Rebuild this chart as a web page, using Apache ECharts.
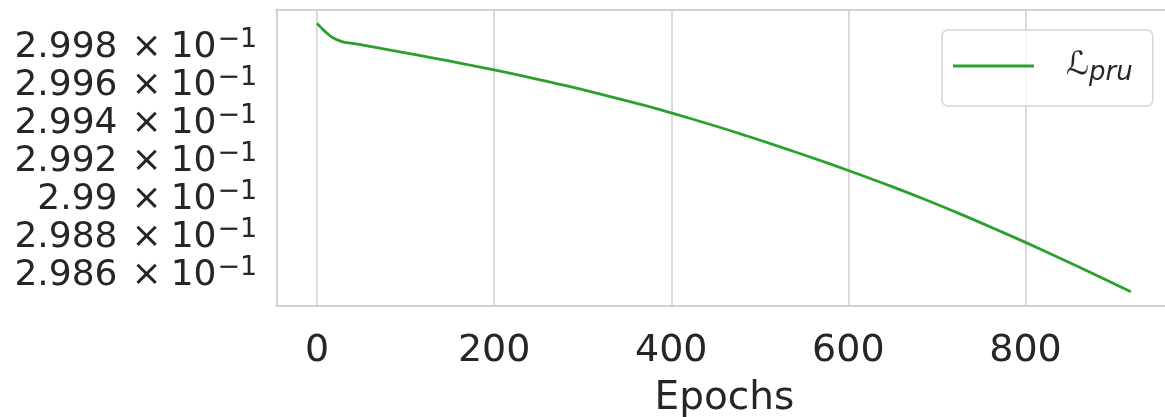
<!DOCTYPE html>
<html>
<head>
<meta charset="utf-8">
<script src="https://cdn.jsdelivr.net/npm/echarts@6/dist/echarts.min.js"></script>
<style>
  html, body { margin: 0; padding: 0; background: #ffffff; }
  #chart { width: 1165px; height: 417px; }
</style>
</head>
<body>
<div id="chart"></div>
<script>
// Pruning loss recorded over training epochs
const epochs = [0, 8, 17, 28, 40, 55, 92, 130, 168, 200, 243, 281, 319, 371, 400,
  447, 484, 522, 560, 600, 650, 688, 726, 763, 800, 839, 877, 919];
const pruLoss = [0.299905, 0.299867, 0.299832, 0.299809, 0.299800, 0.299788, 0.299757,
  0.299724, 0.299690, 0.299660, 0.299617, 0.299577, 0.299534, 0.299472, 0.299434,
  0.299369, 0.299315, 0.299257, 0.299197, 0.299131, 0.299045, 0.298976, 0.298903,
  0.298829, 0.298753, 0.298670, 0.298587, 0.298493];

const xTicks = [0, 200, 400, 600, 800];
const yTickValues = [0.2986, 0.2988, 0.2990, 0.2992, 0.2994, 0.2996, 0.2998];
const yTickMantissas = ['2.986', '2.988', '2.99', '2.992', '2.994', '2.996', '2.998'];

const FONT = 'DejaVu Sans';
const TEXT = '#262626';
const GRID_GRAY = '#d2d2d2';
const X_MIN = -46, X_MAX = 966;
const Y_MIN = 0.298421, Y_MAX = 0.299978;

const frameLine = { show: true, onZero: false, lineStyle: { color: GRID_GRAY, width: 2 } };

// "m × 10^-1" tick text, mantissa looked up from the tick table
function sciLabel(v) {
  let idx = 0, best = Infinity;
  yTickValues.forEach(function (t, i) {
    const d = Math.abs(t - v);
    if (d < best) { best = d; idx = i; }
  });
  return '{m|' + yTickMantissas[idx] + '}{x|×}{m|10}{e|−1}';
}

function yLabelStyle(values) {
  return {
    customValues: values,
    showMinLabel: true,
    showMaxLabel: true,
    hideOverlap: false,
    margin: 19,
    color: TEXT,
    fontFamily: FONT,
    formatter: sciLabel,
    rich: {
      m: { fontSize: 36, lineHeight: 28, fontFamily: FONT, color: TEXT, padding: [8, 0, 0, 0] },
      x: { fontSize: 36, lineHeight: 28, fontFamily: FONT, color: TEXT, padding: [8, 9, 0, 14] },
      e: { fontSize: 27, lineHeight: 13, fontFamily: FONT, color: TEXT, padding: [0, 0, 7, 1] }
    }
  };
}

// alternate ticks go on two stacked left axes so every label is kept
const yTicksA = yTickValues.filter(function (_, i) { return i % 2 === 0; });
const yTicksB = yTickValues.filter(function (_, i) { return i % 2 === 1; });

const chart = echarts.init(document.getElementById('chart'), null, { renderer: 'canvas' });

chart.setOption({
  animation: false,
  backgroundColor: '#ffffff',
  grid: {
    left: 276.3,
    top: 9.5,
    width: 896.2,
    height: 296,
    outerBoundsMode: 'none',
    containLabel: false,
    show: false
  },
  legend: {
    left: 942,
    top: 30,
    orient: 'vertical',
    icon: 'rect',
    itemWidth: 81,
    itemHeight: 3,
    padding: [20, 20, 20, 11],
    backgroundColor: 'rgba(255,255,255,0.8)',
    borderColor: '#d6d6d6',
    borderWidth: 1.5,
    borderRadius: 6,
    formatter: function () { return '{l|ℒ}{s|pru}'; },
    textStyle: {
      color: TEXT,
      fontFamily: FONT,
      rich: {
        l: { fontSize: 32, fontFamily: FONT, color: TEXT, padding: [0, 0, 0, 27] },
        s: { fontSize: 26, fontFamily: FONT, fontStyle: 'italic', color: TEXT, padding: [14, 0, 0, 0] }
      }
    },
    data: ['prune']
  },
  xAxis: [{
    type: 'value',
    position: 'bottom',
    min: X_MIN,
    max: X_MAX,
    name: 'Epochs',
    nameLocation: 'middle',
    nameGap: 74,
    nameTextStyle: { fontFamily: FONT, fontSize: 39, color: TEXT },
    axisLine: frameLine,
    axisTick: { show: false, customValues: xTicks },
    axisLabel: {
      customValues: xTicks,
      fontFamily: FONT,
      fontSize: 38,
      color: TEXT,
      margin: 27
    },
    splitLine: { show: true, lineStyle: { color: GRID_GRAY, width: 1.6 } }
  }, {
    // top edge of the plot frame
    type: 'value',
    position: 'top',
    min: X_MIN,
    max: X_MAX,
    axisLine: frameLine,
    axisTick: { show: false },
    axisLabel: { show: false },
    splitLine: { show: false }
  }],
  yAxis: [{
    type: 'value',
    position: 'left',
    min: Y_MIN,
    max: Y_MAX,
    axisLine: frameLine,
    axisTick: { show: false, customValues: yTicksA },
    splitLine: { show: false },
    axisLabel: yLabelStyle(yTicksA)
  }, {
    type: 'value',
    position: 'left',
    offset: 0,
    min: Y_MIN,
    max: Y_MAX,
    axisLine: { show: false, onZero: false },
    axisTick: { show: false, customValues: yTicksB },
    splitLine: { show: false },
    axisLabel: yLabelStyle(yTicksB)
  }],
  series: [{
    name: 'prune',
    type: 'line',
    xAxisIndex: 0,
    yAxisIndex: 0,
    data: epochs.map(function (e, i) { return [e, pruLoss[i]]; }),
    showSymbol: false,
    symbol: 'none',
    smooth: 0.4,
    lineStyle: { color: '#2ca02c', width: 2.8 },
    itemStyle: { color: '#2ca02c' },
    z: 5
  }]
});
</script>
</body>
</html>
